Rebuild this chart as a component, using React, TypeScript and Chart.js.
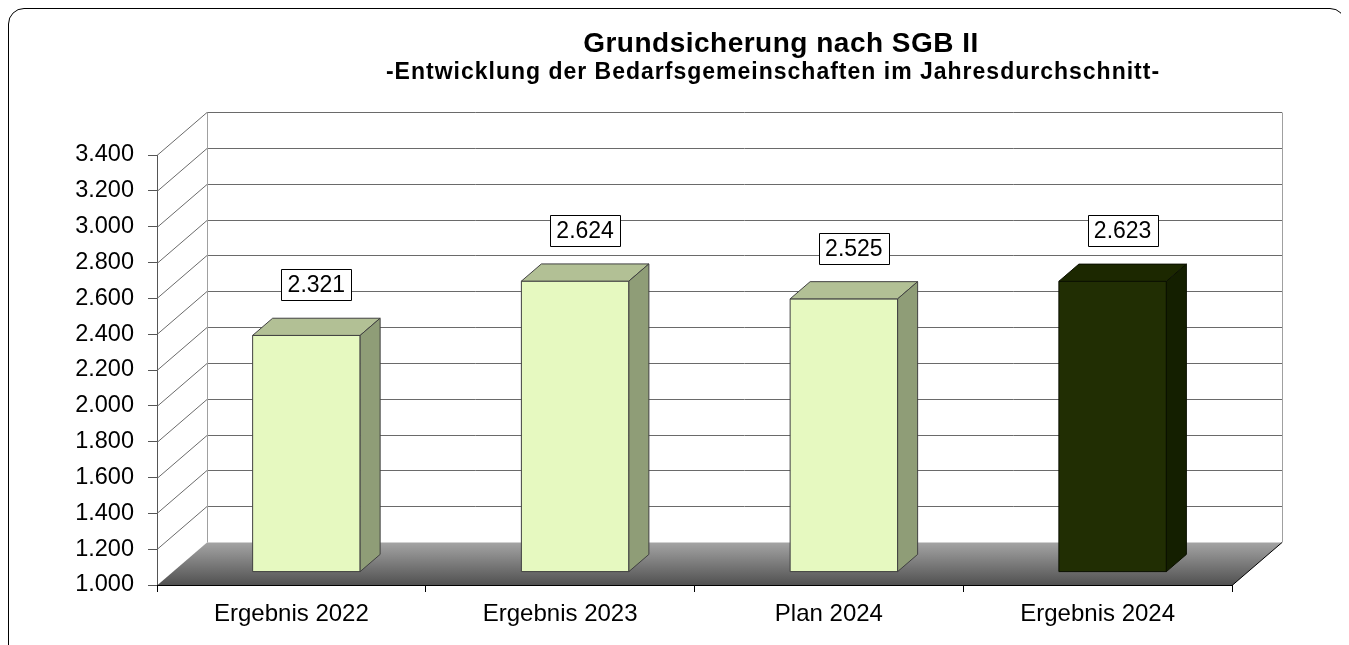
import React, { useEffect, useRef } from 'react';
import { Chart, registerables } from 'chart.js';

Chart.register(...registerables);

const TITLE = 'Grundsicherung nach SGB II';
const SUBTITLE = '-Entwicklung der Bedarfsgemeinschaften im Jahresdurchschnitt-';
const categories = ['Ergebnis 2022', 'Ergebnis 2023', 'Plan 2024', 'Ergebnis 2024'];
const values = [2321, 2624, 2525, 2623];
const Y_MIN = 1000;
const Y_MAX = 3400;
const Y_STEP = 200;

const frontColors = ['#e6f9c0', '#e6f9c0', '#e6f9c0', '#212e03'];
const topColors = ['#b2c095', '#b2c095', '#b2c095', '#1c2800'];
const sideColors = ['#8f9d77', '#8f9d77', '#8f9d77', '#141f00'];
const edgeColors = ['#404040', '#404040', '#404040', '#0b1000'];

const FONT = '"Liberation Sans", Arial, Helvetica, sans-serif';
const DX = 50;
const DY = -43;
const BAR_FRONT = 0.3;
const BAR_BACK = 0.7;

function fmt(v: number): string {
  return String(Math.round(v)).replace(/\B(?=(\d{3})+(?!\d))/g, '.');
}

const threeD = {
  id: 'threeD',
  beforeDatasetsDraw(chart: any) {
    const { ctx, chartArea: a, scales } = chart;
    const y = scales.y;
    const fy = Math.round(y.getPixelForValue(Y_MIN)) + 0.5;
    ctx.save();
    // floor
    const g = ctx.createLinearGradient(0, fy + DY, 0, fy);
    g.addColorStop(0, '#a4a4a4');
    g.addColorStop(1, '#505050');
    ctx.beginPath();
    ctx.moveTo(a.left, fy);
    ctx.lineTo(a.right, fy);
    ctx.lineTo(a.right + DX, fy + DY);
    ctx.lineTo(a.left + DX, fy + DY);
    ctx.closePath();
    ctx.fillStyle = g;
    ctx.fill();
    // grid lines on side and back walls
    ctx.lineWidth = 1;
    ctx.strokeStyle = '#6a6a6a';
    y.ticks.forEach((t: any) => {
      if (t.value <= Y_MIN) return;
      const py = Math.round(y.getPixelForValue(t.value)) + 0.5;
      ctx.beginPath();
      ctx.moveTo(a.left, py);
      ctx.lineTo(a.left + DX, py + DY);
      ctx.lineTo(a.right + DX, py + DY);
      ctx.stroke();
    });
    const ty = Math.round(y.getPixelForValue(Y_MAX)) + 0.5;
    ctx.strokeStyle = '#a0a0a0';
    ctx.beginPath();
    ctx.moveTo(a.left + DX + 0.5, ty + DY);
    ctx.lineTo(a.left + DX + 0.5, fy + DY);
    ctx.moveTo(a.right + DX + 0.5, ty + DY);
    ctx.lineTo(a.right + DX + 0.5, fy + DY);
    ctx.stroke();
    // floor edges
    ctx.strokeStyle = '#000';
    ctx.beginPath();
    ctx.moveTo(a.left, fy);
    ctx.lineTo(a.right, fy);
    ctx.lineTo(a.right + DX, fy + DY);
    ctx.stroke();
    ctx.restore();
  },
  afterDatasetsDraw(chart: any) {
    const { ctx } = chart;
    const meta = chart.getDatasetMeta(0);
    ctx.save();
    ctx.lineWidth = 1;
    ctx.lineJoin = 'round';
    meta.data.forEach((bar: any, i: number) => {
      const { x, y, base, width } = bar.getProps(['x', 'y', 'base', 'width'], true);
      const l = x - width / 2;
      const r = x + width / 2;
      const fx = DX * BAR_FRONT, fyo = DY * BAR_FRONT;
      const bx = DX * BAR_BACK, byo = DY * BAR_BACK;
      ctx.strokeStyle = edgeColors[i];
      // front face
      ctx.beginPath();
      ctx.rect(l + fx, y + fyo, r - l, base - y);
      ctx.fillStyle = frontColors[i];
      ctx.fill();
      ctx.stroke();
      // top face
      ctx.beginPath();
      ctx.moveTo(l + fx, y + fyo);
      ctx.lineTo(r + fx, y + fyo);
      ctx.lineTo(r + bx, y + byo);
      ctx.lineTo(l + bx, y + byo);
      ctx.closePath();
      ctx.fillStyle = topColors[i];
      ctx.fill();
      ctx.stroke();
      // side face
      ctx.beginPath();
      ctx.moveTo(r + fx, y + fyo);
      ctx.lineTo(r + bx, y + byo);
      ctx.lineTo(r + bx, base + byo);
      ctx.lineTo(r + fx, base + fyo);
      ctx.closePath();
      ctx.fillStyle = sideColors[i];
      ctx.fill();
      ctx.stroke();
      // value label
      const txt = fmt(values[i]);
      ctx.font = `23px ${FONT}`;
      const tw = ctx.measureText(txt).width;
      const cx = x + DX * 0.5;
      const cy = y + DY * 0.5 - 42;
      const bw = Math.round(tw + 12);
      const bh = 31;
      const bl = Math.round(cx - bw / 2) + 0.5;
      const bt = Math.round(cy - bh / 2) + 0.5;
      ctx.fillStyle = '#fff';
      ctx.strokeStyle = '#000';
      ctx.beginPath();
      ctx.rect(bl, bt, bw, bh);
      ctx.fill();
      ctx.stroke();
      ctx.fillStyle = '#000';
      ctx.textAlign = 'center';
      ctx.textBaseline = 'middle';
      ctx.fillText(txt, cx, cy + 1);
    });
    ctx.restore();
  },
};

const titles = {
  id: 'titles',
  afterDraw(chart: any) {
    const { ctx } = chart;
    ctx.save();
    ctx.fillStyle = '#000';
    ctx.textAlign = 'center';
    ctx.textBaseline = 'alphabetic';
    (ctx as any).letterSpacing = '0.5px';
    ctx.font = `bold 28px ${FONT}`;
    ctx.fillText(TITLE, 772, 43);
    (ctx as any).letterSpacing = '1px';
    ctx.font = `bold 23px ${FONT}`;
    ctx.fillText(SUBTITLE, 764, 70);
    (ctx as any).letterSpacing = '0px';
    ctx.restore();
  },
};

export default function App() {
  const ref = useRef<HTMLCanvasElement | null>(null);

  useEffect(() => {
    document.body.style.overflow = 'hidden';
    document.documentElement.style.overflow = 'hidden';
    const canvas = ref.current;
    if (!canvas) return;
    const chart = new Chart(canvas, {
      type: 'bar',
      data: {
        labels: categories,
        datasets: [
          {
            data: values,
            base: Y_MIN,
            backgroundColor: 'rgba(0,0,0,0)',
            borderWidth: 0,
            categoryPercentage: 1,
            barPercentage: 0.4,
          },
        ],
      },
      options: {
        responsive: false,
        animation: false,
        layout: { padding: { top: 146, right: 113, left: 0, bottom: 0 } },
        plugins: {
          legend: { display: false },
          title: { display: false },
          tooltip: { enabled: false },
        },
        scales: {
          x: {
            offset: true,
            grid: { offset: true, drawOnChartArea: false, tickLength: 7, color: '#000' },
            border: { display: true, color: '#000' },
            ticks: { font: { family: FONT, size: 24 }, color: '#000', padding: 8, maxRotation: 0, autoSkip: false },
            afterFit: (s: any) => {
              s.height = 82;
            },
          },
          y: {
            min: Y_MIN,
            max: Y_MAX,
            beginAtZero: false,
            ticks: {
              stepSize: Y_STEP,
              callback: (v: any) => fmt(Number(v)),
              font: { family: FONT, size: 23.5 },
              color: '#000',
              padding: 14,
            },
            grid: { drawOnChartArea: false, tickLength: 9, color: '#555' },
            border: { display: true, color: '#555' },
            afterFit: (s: any) => {
              s.width = 148;
            },
          },
        },
      },
      plugins: [threeD, titles],
    });
    return () => chart.destroy();
  }, []);

  return (
    <div
      style={{
        width: 1336,
        height: 658,
        border: '1px solid #000',
        borderRadius: 16,
        overflow: 'hidden',
        background: '#fff',
      }}
    >
      <canvas ref={ref} width={1336} height={658} style={{ display: 'block', width: 1336, height: 658 }} />
    </div>
  );
}
